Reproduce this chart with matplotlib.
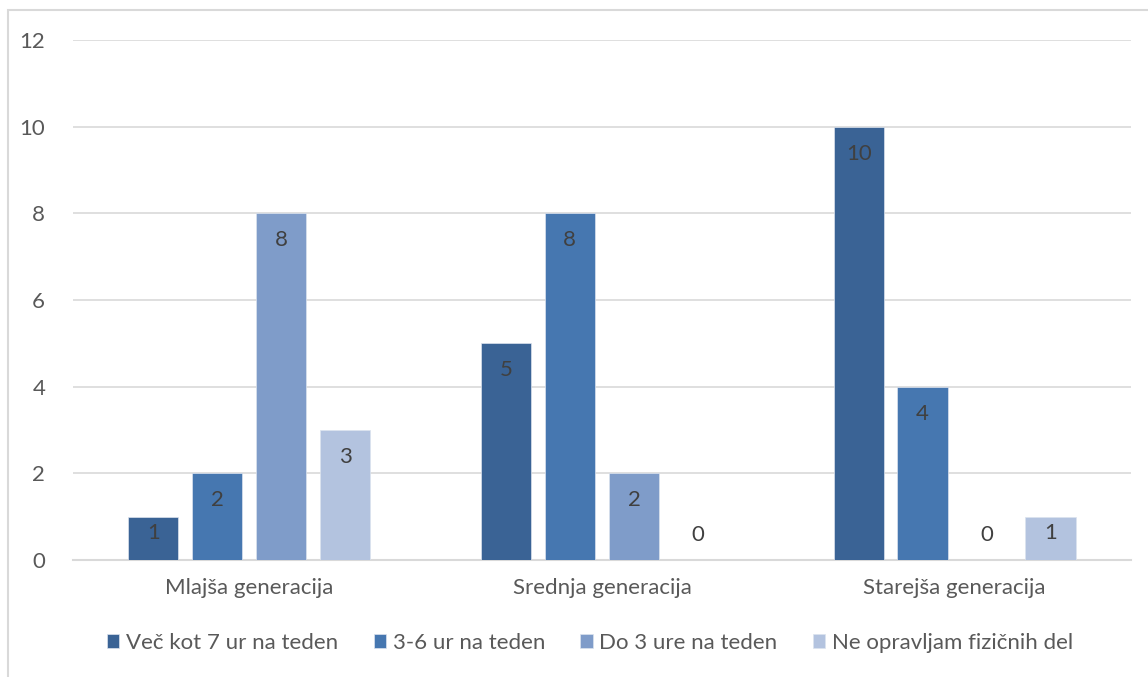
import matplotlib.pyplot as plt
from matplotlib.patches import Rectangle
import numpy as np

plt.rcParams['font.family'] = ['Lato', 'DejaVu Sans']

groups = ['Mlajša generacija', 'Srednja generacija', 'Starejša generacija']
series = ['Več kot 7 ur na teden', '3-6 ur na teden', 'Do 3 ure na teden', 'Ne opravljam fizičnih del']
values = [
    [1, 5, 10],
    [2, 8, 4],
    [8, 2, 0],
    [3, 0, 1],
]
colors = ['#3A6395', '#4677B0', '#7F9CC9', '#B3C3DF']

fig = plt.figure(figsize=(11.48, 6.77), dpi=100)
ax = fig.add_axes([0.0636, 0.1728, 0.9215, 0.7681])

# outer chart frame (only left/top fall inside the image)
fig.patches.append(Rectangle((8 / 1148, -0.1), 1.2, 1 - 10 / 677 + 0.1,
                             transform=fig.transFigure, fill=False,
                             edgecolor='#D9D9D9', linewidth=1.5))

x = np.arange(len(groups))
offsets = [-0.272, -0.091, 0.091, 0.272]
width = 0.142

for i, name in enumerate(series):
    bars = ax.bar(x + offsets[i], values[i], width, color=colors[i],
                  edgecolor='#DCE3EE', linewidth=0.5, label=name, zorder=3)
    for b, v in zip(bars, values[i]):
        # inside-end labels; short bars get a smaller margin, zeros sit above the axis
        if v == 0:
            dy = 18
        elif v == 1:
            dy = -11.5
        else:
            dy = -19.5
        ax.annotate(str(v), (b.get_x() + b.get_width() / 2, v),
                    xytext=(0, dy), textcoords='offset points',
                    ha='center', va='center', fontsize=16, color='#404040', zorder=4)

ax.set_xlim(-0.5, 2.5)
ax.set_ylim(0, 12)
ax.set_yticks(range(0, 13, 2))
ax.set_xticks(x)
ax.set_xticklabels(groups)
ax.grid(axis='y', color='#D9D9D9', linewidth=1.2, zorder=0)
ax.tick_params(axis='both', length=0, labelsize=16, colors='#595959')
ax.tick_params(axis='x', pad=13)
ax.tick_params(axis='y', pad=20)
for s in ['top', 'right', 'left']:
    ax.spines[s].set_visible(False)
ax.spines['bottom'].set_color('#D9D9D9')
ax.spines['bottom'].set_linewidth(1.5)

leg = fig.legend(loc='center', bbox_to_anchor=(0.514, 1 - 643 / 677), ncol=4,
                 frameon=False, fontsize=16, handlelength=0.55, handleheight=0.55,
                 handletextpad=0.3, columnspacing=1.6)
for t in leg.get_texts():
    t.set_color('#595959')

fig.savefig('out.png', dpi=100)
